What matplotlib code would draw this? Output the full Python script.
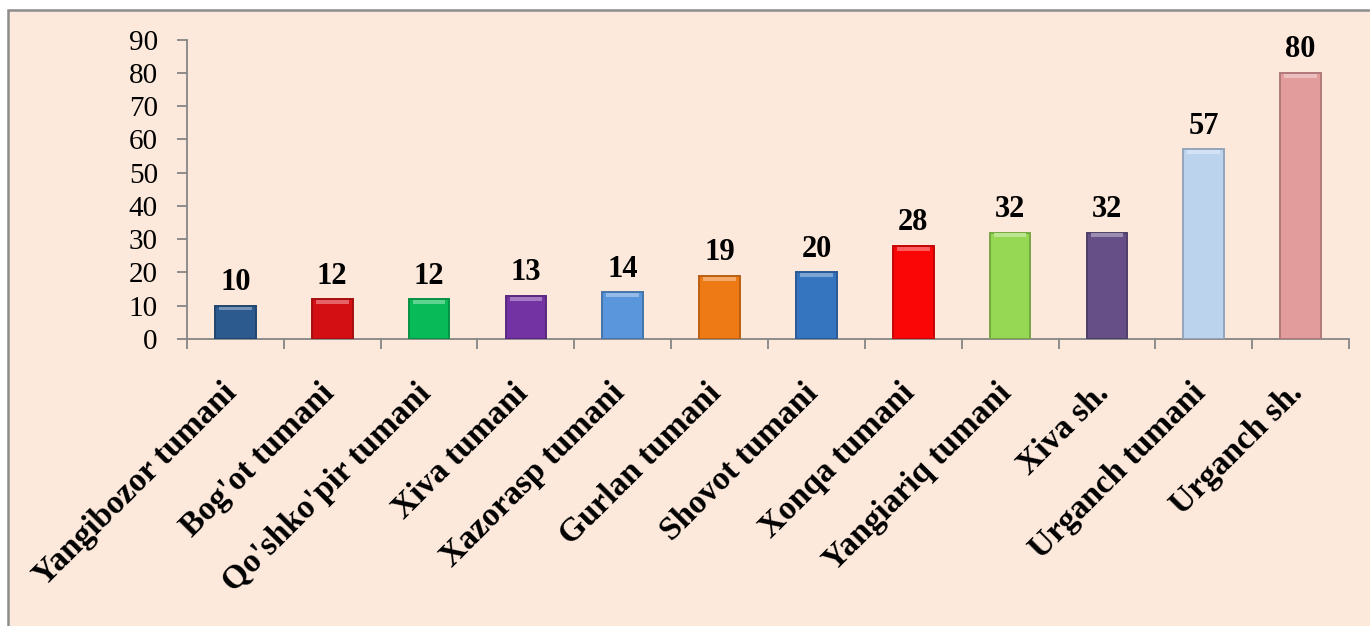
import matplotlib
matplotlib.use("Agg")
import matplotlib.pyplot as plt
from matplotlib.patches import Rectangle
from matplotlib.transforms import ScaledTranslation
import numpy as np

categories = ["Yangibozor tumani", "Bog'ot tumani", "Qo'shko'pir tumani", "Xiva tumani",
              "Xazorasp tumani", "Gurlan tumani", "Shovot tumani", "Xonqa tumani",
              "Yangiariq tumani", "Xiva sh.", "Urganch tumani", "Urganch sh."]
values = [10, 12, 12, 13, 14, 19, 20, 28, 32, 32, 57, 80]
bar_colors = ["#2c5a8e", "#d40f14", "#08bb58", "#7433a3", "#5a96dc", "#ee7a16",
              "#3574bf", "#fa0606", "#96d853", "#654f86", "#bcd3ee", "#e29c9c"]
y_ticks = [0, 10, 20, 30, 40, 50, 60, 70, 80, 90]

plt.rcParams['font.family'] = ['Liberation Serif', 'DejaVu Serif']

W, H = 1370, 626
fig = plt.figure(figsize=(W / 100, H / 100), dpi=100)
fig.patch.set_facecolor("white")

# chart area background with frame
bg = Rectangle((8 / W, -0.05), 1.1, (H - 10) / H + 0.05, transform=fig.transFigure,
               facecolor="#fde9dc", edgecolor="#8c8c8c", linewidth=1.8, zorder=-10)
fig.patches.append(bg)

ax = fig.add_axes([187 / W, 1 - 339 / H, (1349 - 187) / W, (339 - 39.5) / H])
ax.set_facecolor("none")

x = np.arange(len(categories))


def darker(c, f=0.78):
    r, g, b = matplotlib.colors.to_rgb(c)
    return (r * f, g * f, b * f)


def lighter(c, f=0.35):
    r, g, b = matplotlib.colors.to_rgb(c)
    return (r + (1 - r) * f, g + (1 - g) * f, b + (1 - b) * f)


bars = ax.bar(x, values, width=0.42, color=bar_colors,
              edgecolor=[darker(c) for c in bar_colors], linewidth=1.4, zorder=3)

# small highlight at bar tops (bevel look)
for b, c in zip(bars, bar_colors):
    bx, bw, bh = b.get_x(), b.get_width(), b.get_height()
    hh = min(1.2, bh * 0.1)
    ax.bar(bx + bw / 2, hh, width=bw * 0.8, bottom=bh - hh - 0.25,
           color=lighter(c), linewidth=0, zorder=4)

for xi, v in zip(x, values):
    ax.annotate(f"{v}", (xi, v), xytext=(0, 6), textcoords="offset points",
                ha="center", va="bottom", fontsize=22, fontweight="bold", color="black")

ax.set_xlim(-0.5, len(categories) - 0.5)
ax.set_ylim(0, 90)
ax.set_yticks(y_ticks)
ax.set_yticklabels([str(t) for t in y_ticks], fontsize=21)
ax.tick_params(axis="y", direction="out", length=7, width=1.3, color="#868686", pad=14)

ax.set_xticks(x)
ax.set_xticklabels(categories, rotation=45, ha="right", va="baseline",
                   rotation_mode="anchor", fontsize=24, fontweight="bold")
ax.tick_params(axis="x", which="major", length=0, pad=40)
shift = ScaledTranslation(3 / 100, 0, fig.dpi_scale_trans)
for lbl in ax.get_xticklabels():
    lbl.set_transform(lbl.get_transform() + shift)
ax.set_xticks(np.arange(-0.5, len(categories), 1.0), minor=True)
ax.tick_params(axis="x", which="minor", direction="out", length=7, width=1.3, color="#868686")

for side in ["top", "right"]:
    ax.spines[side].set_visible(False)
for side in ["left", "bottom"]:
    ax.spines[side].set_color("#868686")
    ax.spines[side].set_linewidth(1.3)

fig.savefig("out.png", dpi=100)
